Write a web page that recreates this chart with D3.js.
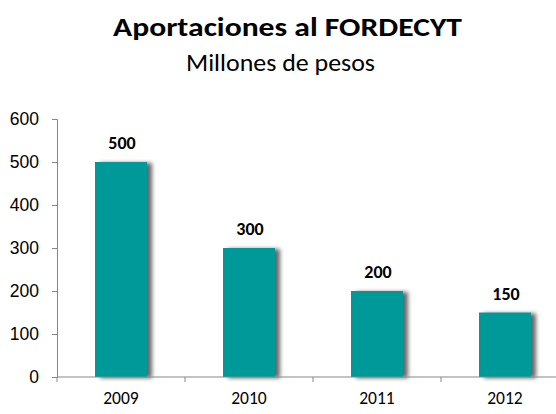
<!DOCTYPE html>
<html>
<head>
<meta charset="utf-8">
<script src="https://cdn.jsdelivr.net/npm/d3@7"></script>
<style>
  body { margin: 0; background: #fff; }
  svg { display: block; font-family: Carlito, Calibri, "Open Sans", sans-serif; }
</style>
</head>
<body>
<div id="chart"></div>
<script>
var years = ["2009", "2010", "2011", "2012"];
var amounts = [500, 300, 200, 150];
var yTicks = [0, 100, 200, 300, 400, 500, 600];

var width = 556, height = 414;
var margin = {top: 119, right: -13, bottom: 37, left: 57};
var plotW = width - margin.left - margin.right;
var plotH = height - margin.top - margin.bottom;

var svg = d3.select("#chart").append("svg")
  .attr("width", width)
  .attr("height", height);

// soft shadow to the right of the bars
var defs = svg.append("defs");
var filter = defs.append("filter")
  .attr("id", "shadow")
  .attr("x", "-20%").attr("y", "-20%")
  .attr("width", "150%").attr("height", "140%");
filter.append("feGaussianBlur")
  .attr("in", "SourceAlpha")
  .attr("stdDeviation", 2.2)
  .attr("result", "blur");
filter.append("feOffset")
  .attr("in", "blur")
  .attr("dx", 5).attr("dy", 1)
  .attr("result", "off");
filter.append("feComponentTransfer")
  .attr("in", "off")
  .attr("result", "offA")
  .append("feFuncA").attr("type", "linear").attr("slope", 0.6);
var merge = filter.append("feMerge");
merge.append("feMergeNode").attr("in", "offA");
merge.append("feMergeNode").attr("in", "SourceGraphic");

// titles (the source font is a bit wider than Carlito, so stretch to fit)
svg.append("text")
  .attr("x", 287.5).attr("y", 36)
  .attr("text-anchor", "middle")
  .attr("textLength", 349)
  .attr("lengthAdjust", "spacingAndGlyphs")
  .style("font-size", "27px")
  .style("font-weight", "bold")
  .text("Aportaciones al FORDECYT");
svg.append("text")
  .attr("x", 280.5).attr("y", 71)
  .attr("text-anchor", "middle")
  .attr("textLength", 189)
  .attr("lengthAdjust", "spacingAndGlyphs")
  .style("font-size", "24px")
  .text("Millones de pesos");

var g = svg.append("g")
  .attr("transform", "translate(" + margin.left + "," + margin.top + ")");

var x = d3.scaleBand().domain(years).range([0, plotW]).paddingInner(0).paddingOuter(0);
var y = d3.scaleLinear().domain([0, 600]).range([plotH, 0]);

var barW = 52;

g.selectAll("rect.bar")
  .data(amounts)
  .enter().append("rect")
  .attr("class", "bar")
  .attr("x", function(d, i) { return x(years[i]) + x.bandwidth() / 2 - barW / 2; })
  .attr("y", function(d) { return y(d); })
  .attr("width", barW)
  .attr("height", function(d) { return plotH - y(d); })
  .attr("fill", "#009999")
  .attr("filter", "url(#shadow)");

g.selectAll("text.val")
  .data(amounts)
  .enter().append("text")
  .attr("class", "val")
  .attr("x", function(d, i) { return x(years[i]) + x.bandwidth() / 2 + 1; })
  .attr("y", function(d) { return y(d) - 13; })
  .attr("text-anchor", "middle")
  .style("font-size", "18px")
  .style("font-weight", "bold")
  .text(function(d) { return d; });

// y axis
var yAxis = g.append("g")
  .call(d3.axisLeft(y).tickValues(yTicks).tickSize(5).tickPadding(13));
yAxis.selectAll("text").style("font-size", "17.5px").attr("fill", "#000");

// x axis (tick marks at band edges)
var xAxis = g.append("g").attr("transform", "translate(0," + plotH + ")");
xAxis.append("line")
  .attr("x1", 0).attr("x2", plotW)
  .attr("y1", 0).attr("y2", 0);
xAxis.selectAll("line.tk")
  .data(years)
  .enter().append("line")
  .attr("class", "tk")
  .attr("x1", function(d) { return x(d); })
  .attr("x2", function(d) { return x(d); })
  .attr("y1", 0).attr("y2", 5);
xAxis.selectAll("text")
  .data(years)
  .enter().append("text")
  .attr("x", function(d) { return x(d) + x.bandwidth() / 2; })
  .attr("y", 27)
  .attr("text-anchor", "middle")
  .style("font-size", "17.5px")
  .text(function(d) { return d; });

svg.selectAll(".domain, .tick line, line")
  .attr("stroke", "#878787")
  .attr("stroke-width", 1);
</script>
</body>
</html>
